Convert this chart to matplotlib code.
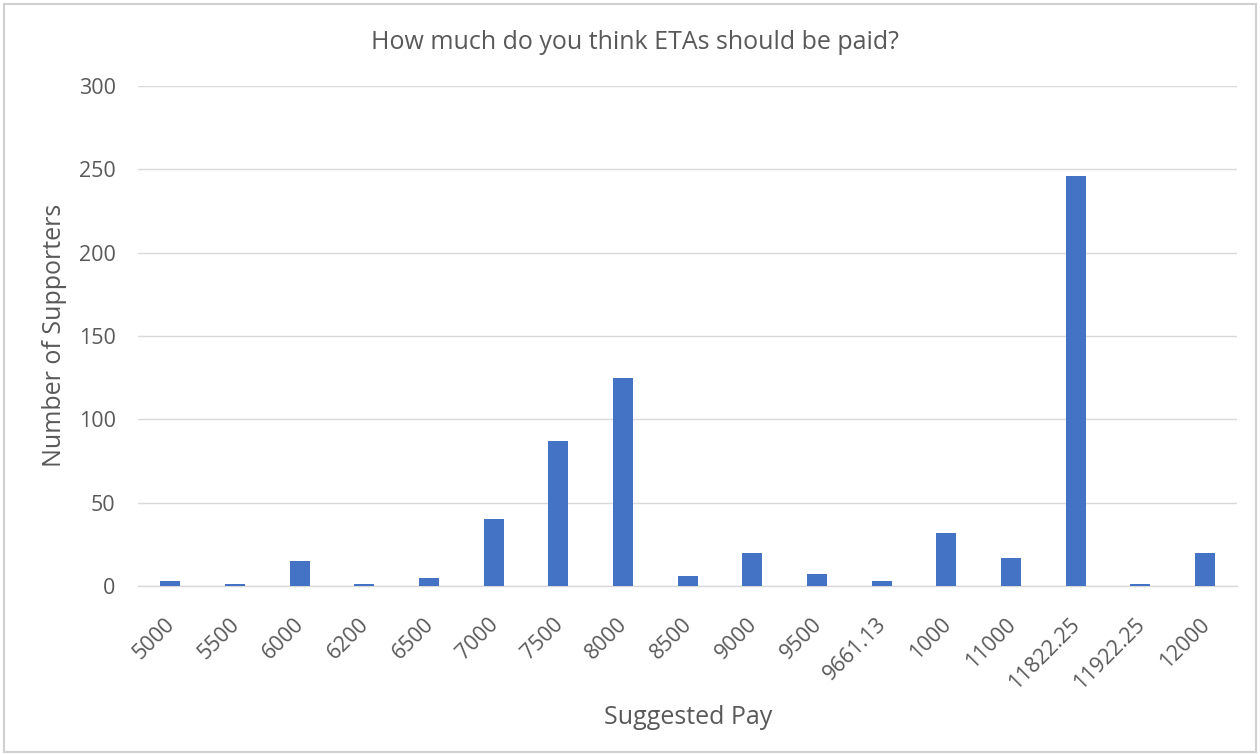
import matplotlib
matplotlib.use("Agg")
import matplotlib.pyplot as plt
import matplotlib.transforms as mtransforms
from matplotlib.patches import Rectangle

categories = ["5000", "5500", "6000", "6200", "6500", "7000", "7500", "8000", "8500",
              "9000", "9500", "9661.13", "1000", "11000", "11822.25", "11922.25", "12000"]
supporters = [3, 1, 15, 1, 5, 40, 87, 125, 6, 20, 7, 3, 32, 17, 246, 1, 20]
y_ticks = [0, 50, 100, 150, 200, 250, 300]

plt.rcParams['font.family'] = ['Open Sans', 'DejaVu Sans']
grey = '#595959'

fig = plt.figure(figsize=(12.6, 7.54), dpi=100)
ax = fig.add_axes([0.1095, 0.2228, 0.8725, 0.6632])
x = list(range(len(categories)))
ax.bar(x, supporters, width=0.31, color='#4472C4', zorder=3)
ax.set_xlim(-0.5, len(categories) - 0.5)
ax.set_ylim(0, 300)
ax.set_yticks(y_ticks)
ax.set_yticklabels([str(v) for v in y_ticks], fontsize=15.5, color=grey)
ax.set_xticks(x)
ax.set_xticklabels([''] * len(categories))
base = ax.get_xaxis_transform()
offset = mtransforms.ScaledTranslation(-6 / 100, -28 / 100, fig.dpi_scale_trans)
for xi, cat in zip(x, categories):
    ax.text(xi, 0, cat, transform=base + offset, rotation=45, ha='right', va='top',
            rotation_mode='anchor', fontsize=15.5, color=grey)
ax.yaxis.grid(True, color='#D9D9D9', linewidth=1, zorder=0)
for s in ['top', 'right', 'left']:
    ax.spines[s].set_visible(False)
ax.spines['bottom'].set_color('#D9D9D9')
ax.spines['bottom'].set_linewidth(1)
ax.tick_params(axis='y', length=0, pad=16)
ax.tick_params(axis='x', length=0, pad=14)
ax.set_ylabel('Number of Supporters', fontsize=18, color=grey, va='center')
ax.yaxis.set_label_coords(-0.0755, 0.502)
ax.set_xlabel('Suggested Pay', fontsize=18, color=grey, va='center')
ax.xaxis.set_label_coords(0.5, -0.262)
fig.text(0.504, 0.943, 'How much do you think ETAs should be paid?', ha='center', va='center', fontsize=18, color=grey)
fig.patches.append(Rectangle((0.003, 0.003), 0.994, 0.992, transform=fig.transFigure,
                             fill=False, edgecolor='#D0D0D0', linewidth=1.5))
fig.savefig('out.png', dpi=100)
